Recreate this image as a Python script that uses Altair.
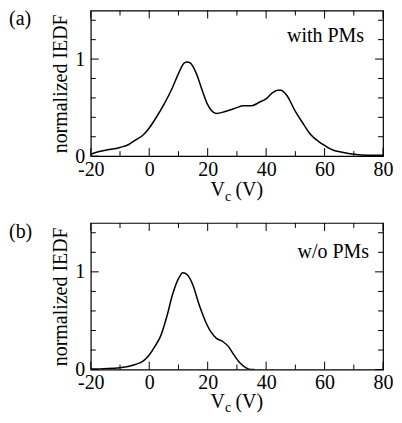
import altair as alt
import pandas as pd

# ---- data ----
va_x = [-20, -18, -15, -10, -7, -5, -2, 0, 2, 5, 8, 10, 12, 13, 14, 16, 18, 20, 22, 23,
        26, 30, 32, 35, 38, 40, 42, 44, 45, 47, 50, 53, 55, 58, 60, 63, 66, 70, 75, 80]
va_y = [0.02, 0.04, 0.06, 0.09, 0.12, 0.16, 0.22, 0.29, 0.38, 0.53, 0.71, 0.85, 0.96, 0.97,
        0.96, 0.86, 0.69, 0.53, 0.45, 0.44, 0.46, 0.50, 0.52, 0.52, 0.56, 0.59, 0.65, 0.68,
        0.68, 0.63, 0.46, 0.32, 0.23, 0.15, 0.11, 0.06, 0.04, 0.02, 0.01, 0.01]

vb_x = [-20, -10, -5, -2, 0, 2, 4, 6, 8, 10, 11.5, 13, 15, 17, 19, 21, 23, 25, 27, 29,
        31, 33, 35, 36]
vb_y = [0.005, 0.02, 0.05, 0.09, 0.15, 0.24, 0.35, 0.54, 0.77, 0.93, 0.99, 0.97, 0.86,
        0.67, 0.51, 0.39, 0.32, 0.29, 0.24, 0.15, 0.07, 0.02, 0.0, 0.0]

x_major = [-20, 0, 20, 40, 60, 80]
x_minor = [-10, 10, 30, 50, 70]
y_major = [0, 1]
y_minor = [0.2, 0.4, 0.6, 0.8, 1.2, 1.4]

panel_tags = ["(a)", "(b)"]
panel_notes = ["with PMs", "w/o PMs"]
y_title = "normalized IEDF"

FONT = "Liberation Serif"
FS = 20
W = 293
MAJ, MIN = 8, 5


def panel(xs, ys, tag, note, H, note_dx, note_y, v_dy, c_dy):
    xsc = alt.Scale(domain=[-20, 80], nice=False, zero=False)
    ysc = alt.Scale(domain=[0, 1.5], nice=False)
    ax_x = alt.Axis(values=x_major, labelExpr="datum.value + ''",
                    ticks=False, domain=False, grid=False, labelFlush=False,
                    labelPadding=3, title=None, labelFont=FONT,
                    labelFontSize=FS, labelColor="black")
    ax_y = alt.Axis(values=y_major, ticks=False, domain=False, grid=False,
                    labelFlush=False, labelPadding=6, title=y_title, titlePadding=4,
                    titleFont=FONT, titleFontSize=FS, titleFontWeight="normal",
                    titleColor="black", labelFont=FONT, labelFontSize=FS,
                    labelColor="black")
    df = pd.DataFrame({"v": xs, "f": ys})
    line = alt.Chart(df).mark_line(color="black", strokeWidth=1.5,
                                   interpolate="monotone", clip=True).encode(
        x=alt.X("v:Q", scale=xsc, axis=ax_x),
        y=alt.Y("f:Q", scale=ysc, axis=ax_y),
    )
    layers = [line]
    for vals, ln in ((x_major, MAJ), (x_minor, MIN)):
        d = pd.DataFrame({"v": vals})
        layers.append(alt.Chart(d).mark_rule(color="black", strokeWidth=1).encode(
            x=alt.X("v:Q", scale=xsc, axis=ax_x), y=alt.value(H), y2=alt.value(H - ln)))
        layers.append(alt.Chart(d).mark_rule(color="black", strokeWidth=1).encode(
            x=alt.X("v:Q", scale=xsc, axis=ax_x), y=alt.value(0), y2=alt.value(ln)))
    for vals, ln in ((y_major, MAJ), (y_minor, MIN)):
        d = pd.DataFrame({"f": vals})
        layers.append(alt.Chart(d).mark_rule(color="black", strokeWidth=1).encode(
            y=alt.Y("f:Q", scale=ysc, axis=ax_y), x=alt.value(0), x2=alt.value(ln)))
        layers.append(alt.Chart(d).mark_rule(color="black", strokeWidth=1).encode(
            y=alt.Y("f:Q", scale=ysc, axis=ax_y), x=alt.value(W), x2=alt.value(W - ln)))

    def txt(s, x, y, size, align="left"):
        return alt.Chart(pd.DataFrame({"t": [s]})).mark_text(
            font=FONT, fontSize=size, color="black", align=align,
            baseline="alphabetic").encode(text="t:N", x=alt.value(x), y=alt.value(y))

    cx = W / 2
    layers.append(txt(tag, -82, 15, FS))
    layers.append(txt(note, W - note_dx, note_y, FS, "right"))
    layers.append(txt("V", cx - 26.5, H + v_dy, FS))
    layers.append(txt("c", cx - 12, H + c_dy, 14))
    layers.append(txt("(V)", cx - 1.5, H + v_dy, FS))
    return alt.layer(*layers).properties(width=W, height=H)


top = panel(va_x, va_y, panel_tags[0], panel_notes[0], 146, 19, 32, 40, 45)
bot = panel(vb_x, vb_y, panel_tags[1], panel_notes[1], 147, 14, 35, 39, 43)

chart = alt.vconcat(top, bot, spacing=67, bounds="flush").properties(
    padding={"left": 0, "top": 0, "right": 0, "bottom": 0},
    background="white",
).configure_view(stroke="black", strokeWidth=1.2)

chart.save("out.html", embed_options={"renderer": "svg", "actions": False})
